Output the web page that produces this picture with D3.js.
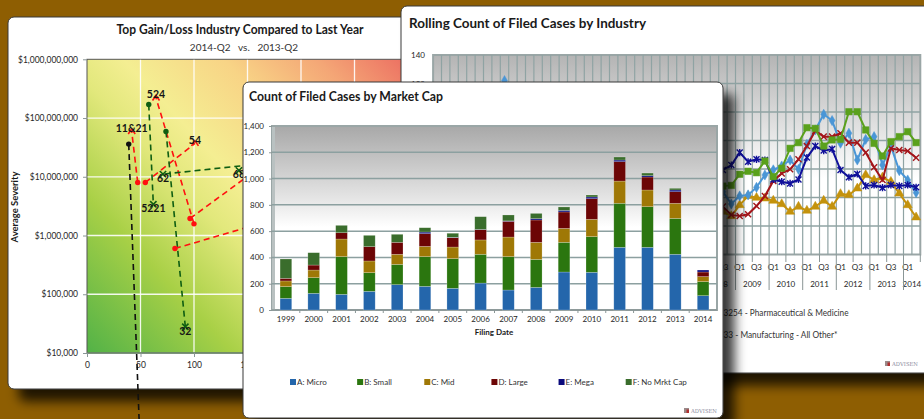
<!DOCTYPE html>
<html>
<head>
<meta charset="utf-8">
<script src="https://cdn.jsdelivr.net/npm/d3@7"></script>
<style>
body { margin: 0; background: #8e5e02; }
svg { display: block; font-family: Lato, "Open Sans", sans-serif; }
</style>
</head>
<body>
<svg id="chart" width="924" height="419"></svg>
<script>
/* ---------- data ---------- */

// Top Gain/Loss industries: each one moves from its 2013-Q2 point (dot) to its 2014-Q2 point (marker)
var industryLabels = ["11&21", "", "54", "524", "", "", "5221", "32", "62", "68"];
var industryTrend  = ["loss", "other", "loss", "loss", "loss", "loss", "gain", "gain", "gain", "gain"];
var count2013    = [47.4, 39.0, 54.5, 100.0, 96.3, 82.2, 57.7, 73.8, 199, 227];
var severity2013 = [8.0e6, 3.6e7, 8.0e6, 1.58e6, 1.95e6, 6.0e5, 1.7e8, 5.9e7, 1.96e7, 2.2e6];
var count2014    = [41.8, 49.5, 100.9, 64.5, 199, 217.8, 62.0, 91.9, 71, 142];
var severity2014 = [5.9e7, 300, 3.7e7, 2.2e8, 4.6e7, 3.2e6, 3.4e6, 2.8e4, 1.11e7, 1.28e7];
var severityTicks = [1e4, 1e5, 1e6, 1e7, 1e8, 1e9];
var countTicks = [0, 50, 100, 150, 200, 250, 300];

// Count of filed cases by market cap
var filingYears = ["1999","2000","2001","2002","2003","2004","2005","2006","2007","2008","2009","2010","2011","2012","2013","2014"];
var capMicro = [89, 127, 119, 142, 193, 180, 165, 205, 152, 172, 289, 287, 477, 477, 424, 109];
var capSmall = [89, 119, 287, 142, 154, 226, 226, 219, 254, 213, 226, 271, 335, 309, 273, 107];
var capMid   = [43, 58, 134, 89, 77, 78, 88, 109, 149, 130, 106, 132, 169, 127, 115, 38];
var capLarge = [20, 38, 48, 109, 91, 97, 71, 78, 120, 170, 125, 157, 148, 99, 88, 35];
var capMega  = [0, 0, 0, 0, 0, 12, 3, 2, 3, 10, 12, 13, 12, 10, 13, 15];
var capNone  = [147, 94, 56, 86, 61, 33, 31, 97, 45, 40, 26, 15, 23, 20, 13, 0];
var capNames  = ["A: Micro", "B: Small", "C: Mid", "D: Large", "E: Mega", "F: No Mrkt Cap"];
var capColors = ["#2466ab", "#2b760f", "#9f7806", "#6c0505", "#0a0a7c", "#3a6d2c"];
var countAxisTicks = [0, 200, 400, 600, 800, 1000, 1200, 1400];

// Rolling count by industry, 2000-Q1 .. 2014-Q2 (null = covered by the front chart)
var rollYears = ["2000","2001","2002","2003","2004","2005","2006","2007","2008","2009","2010","2011","2012","2013","2014"];
var quarterNames = ["Q1", "Q2", "Q3", "Q4"];
var rollBlue = [null,null,null,null,null,null,null,98,122,104,null,null,null,null,null,null,null,null,null,null,
  null,null,null,null,null,null,null,null,null,null,null,null,null,null,
  44.1,35.4,41.1,41.8,47.1,55.8,59.4,62.1,66.3,59.8,77.3,87.4,98.4,94.0,78.1,85.1,66.3,80.8,82.7,62.8,76.1,58.8,52.3,43.4];
var rollGreenLate = [48.0,48.5,56.3,58.4,57.4,65.6,54.6,60.5,74.5,78.5,89.0,88.5,76.1,80.4,80.8,100.2,100.2,87.4,78.0,69.1,79.2,82.7,86.2,78.5];
var rollRedLate   = [33.6,27.8,27.0,28.2,34.0,41.0,51.6,56.9,59.8,66.8,76.1,86.9,82.7,82.7,85.1,78.5,78.5,71.5,61.2,52.3,74.5,73.3,72.6,67.9];
var rollNavyLate  = [59.3,62.8,71.5,65.1,66.8,66.3,52.7,51.1,49.9,52.7,68.0,76.1,72.9,74.0,59.3,54.2,56.5,48.1,48.8,46.9,48.8,48.1,48.8,47.2];
var rollGoldLate  = [30.1,27.0,34.7,41.1,39.9,39.4,37.8,35.4,30.1,33.6,30.8,33.6,37.8,33.6,42.5,41.8,46.4,55.8,52.3,54.2,51.1,42.9,34.7,26.1];
var rollLegend = ["3254 - Pharmaceutical & Medicine", "33 - Manufacturing - All Other*"];

/* ---------- helpers ---------- */
var svg = d3.select("#chart");
var defs = svg.append("defs");

var nQuarters = rollYears.length * 4 - 2;
function padHidden(vals) {
  var out = [];
  for (var i = 0; i < nQuarters - vals.length; i++) out.push(null);
  return out.concat(vals);
}

var shadow = defs.append("filter").attr("id", "shadow")
  .attr("x", "-10%").attr("y", "-10%").attr("width", "130%").attr("height", "130%");
shadow.append("feGaussianBlur").attr("in", "SourceAlpha").attr("stdDeviation", 6);
shadow.append("feOffset").attr("dx", 11).attr("dy", 12).attr("result", "blur");
shadow.append("feFlood").attr("flood-color", "#000").attr("flood-opacity", 0.78);
shadow.append("feComposite").attr("in2", "blur").attr("operator", "in");
var merge = shadow.append("feMerge");
merge.append("feMergeNode");
merge.append("feMergeNode").attr("in", "SourceGraphic");

function gradient(id, x1, y1, x2, y2, stops) {
  var g = defs.append("linearGradient").attr("id", id)
    .attr("gradientUnits", "userSpaceOnUse")
    .attr("x1", x1).attr("y1", y1).attr("x2", x2).attr("y2", y2);
  stops.forEach(function (s) {
    g.append("stop").attr("offset", s[0]).attr("stop-color", s[1]);
  });
}

function styleAxis(g, size) {
  g.select(".domain").remove();
  g.selectAll("line").attr("stroke", "#8a9696");
  g.selectAll("text").attr("font-size", size).attr("fill", "#262626")
    .attr("font-family", "Lato, sans-serif");
}

function logo(x, y) {
  svg.append("rect").attr("x", x).attr("y", y - 5).attr("width", 5).attr("height", 5).attr("fill", "#9a8a8a");
  svg.append("rect").attr("x", x + 2.5).attr("y", y - 3.5).attr("width", 2.5).attr("height", 3.5).attr("fill", "#b03030");
  svg.append("text").attr("x", x + 7).attr("y", y).attr("font-size", 5.5)
    .attr("font-family", "DejaVu Serif, serif").attr("fill", "#8c8ca0")
    .attr("textLength", 26).attr("lengthAdjust", "spacingAndGlyphs").text("ADVISEN");
}

svg.append("rect").attr("width", 924).attr("height", 419).attr("fill", "#8e5e02");

/* ---------- panel 1: scatter ---------- */
svg.append("rect").attr("x", 8).attr("y", 17).attr("width", 430).attr("height", 372)
  .attr("rx", 6).attr("fill", "#fff").attr("stroke", "#3a3a3a").attr("filter", "url(#shadow)");

svg.append("text").attr("x", 240).attr("y", 33.5).attr("text-anchor", "middle")
  .attr("font-size", 12.5).attr("font-weight", "bold").attr("fill", "#1a1a1a")
  .attr("textLength", 247).attr("lengthAdjust", "spacingAndGlyphs")
  .text("Top Gain/Loss Industry Compared to Last Year");
svg.append("text").attr("x", 244).attr("y", 50.5).attr("text-anchor", "middle")
  .attr("font-size", 10).attr("fill", "#333").style("white-space", "pre")
  .text("2014-Q2   vs.   2013-Q2");

var xCount = d3.scaleLinear().domain([0, 300]).range([87, 408]);
var ySev = d3.scaleLog().domain([1e4, 1e9]).range([353, 59.3]);

gradient("heat", 87, 353, 400, 59, [
  [0, "#52b247"], [0.25, "#a8d046"], [0.43, "#e2e87c"], [0.53, "#f4ee92"],
  [0.7, "#f8d486"], [0.86, "#f4a676"], [1, "#ed7363"]]);
svg.append("rect").attr("x", 87).attr("y", 59.3).attr("width", 321).attr("height", 293.7)
  .attr("fill", "url(#heat)").attr("stroke", "#555").attr("stroke-width", 1);

svg.append("g").selectAll("line").data(countTicks.slice(1)).join("line")
  .attr("x1", xCount).attr("x2", xCount).attr("y1", 59.8).attr("y2", 352.5)
  .attr("stroke", "#fff").attr("stroke-width", 1.3).attr("opacity", 0.9);
svg.append("g").selectAll("line").data(severityTicks.slice(1, -1)).join("line")
  .attr("x1", 87.5).attr("x2", 408).attr("y1", ySev).attr("y2", ySev)
  .attr("stroke", "#fff").attr("stroke-width", 1.3).attr("opacity", 0.9);
svg.append("line").attr("x1", 87).attr("x2", 408).attr("y1", 353).attr("y2", 353)
  .attr("stroke", "#6f8a6f").attr("stroke-width", 1.5);

var ay1 = svg.append("g").attr("transform", "translate(87,0)")
  .call(d3.axisLeft(ySev).tickValues(severityTicks).tickSize(4).tickPadding(5)
    .tickFormat(function (d) { return "$" + d3.format(",")(d); }));
styleAxis(ay1, 8.5);
var ax1 = svg.append("g").attr("transform", "translate(0,353)")
  .call(d3.axisBottom(xCount).tickValues(countTicks).tickSize(4).tickPadding(5));
styleAxis(ax1, 8.5);

svg.append("text").attr("transform", "translate(18,207) rotate(-90)").attr("text-anchor", "middle")
  .attr("font-size", 9.5).attr("font-weight", "bold").attr("fill", "#1a1a1a")
  .attr("textLength", 71).attr("lengthAdjust", "spacingAndGlyphs").text("Average Severity");

var trendColor = { loss: "#ff1010", gain: "#0f5e12", other: "#111" };
var moves = industryLabels.map(function (lab, i) {
  return { label: lab, color: trendColor[industryTrend[i]], trend: industryTrend[i],
    x0: xCount(count2013[i]), y0: ySev(severity2013[i]),
    x1: xCount(count2014[i]), y1: ySev(severity2014[i]) };
});
var sc = svg.append("g");
sc.selectAll("line").data(moves).join("line")
  .attr("x1", function (d) { return d.x0; }).attr("y1", function (d) { return d.y0; })
  .attr("x2", function (d) { return d.x1; }).attr("y2", function (d) { return d.y1; })
  .attr("stroke", function (d) { return d.color; }).attr("stroke-width", 1.6)
  .attr("stroke-dasharray", "6,4");
sc.selectAll("circle").data(moves).join("circle")
  .attr("cx", function (d) { return d.x0; }).attr("cy", function (d) { return d.y0; })
  .attr("r", 2.7).attr("fill", function (d) { return d.color; });
sc.selectAll("path.end").data(moves.filter(function (d) { return d.trend !== "other"; })).join("path")
  .attr("class", "end")
  .attr("transform", function (d) { return "translate(" + d.x1 + "," + d.y1 + ")"; })
  .attr("d", function (d) {
    return d.trend === "gain" ? d3.symbol(d3.symbolTimes, 28)() : "M-3.5,2.5L0,-2.5L3.5,2.5";
  })
  .attr("fill", "none").attr("stroke", function (d) { return d.color; }).attr("stroke-width", 1.6);
// losses are labelled above their marker, gains below
sc.selectAll("text").data(moves).join("text")
  .attr("x", function (d) { return d.x1; })
  .attr("y", function (d) { return d.trend === "gain" ? d.y1 + 8 : d.y1 + 0.5; })
  .attr("text-anchor", "middle").attr("font-size", 10.5).attr("font-weight", "bold")
  .attr("fill", "#151515").text(function (d) { return d.label; });

/* ---------- panel 3: rolling count lines ---------- */
svg.append("rect").attr("x", 401).attr("y", 6).attr("width", 560).attr("height", 367)
  .attr("rx", 6).attr("fill", "#fff").attr("stroke", "#3a3a3a").attr("filter", "url(#shadow)");
svg.append("text").attr("x", 409).attr("y", 27.5)
  .attr("font-size", 14).attr("font-weight", "bold").attr("fill", "#1a1a1a")
  .attr("textLength", 237).attr("lengthAdjust", "spacingAndGlyphs")
  .text("Rolling Count of Filed Cases by Industry");

var quarters = [];
rollYears.forEach(function (y) {
  quarterNames.forEach(function (q) { if (quarters.length < nQuarters) quarters.push({ year: y, q: q }); });
});
var x3 = d3.scaleBand().domain(d3.range(nQuarters)).range([433.1, 920.3]);
var y3 = d3.scaleLinear().domain([0, 140]).range([254.5, 55]);
var bw3 = x3.bandwidth();

gradient("wall3", 0, 55, 0, 254.5, [[0, "#b4b4b4"], [0.45, "#ececec"], [0.62, "#fff"], [1, "#fff"]]);
svg.append("rect").attr("x", 433.1).attr("y", 55).attr("width", 487.2).attr("height", 199.5)
  .attr("fill", "url(#wall3)").attr("stroke", "#9aa6a6").attr("stroke-width", 2);
svg.append("g").selectAll("line").data(d3.range(1, nQuarters)).join("line")
  .attr("x1", function (i) { return x3(i); }).attr("x2", function (i) { return x3(i); })
  .attr("y1", 55).attr("y2", 254.5).attr("stroke", "#8fa3a3").attr("stroke-width", 1.2);
svg.append("g").selectAll("line").data(d3.range(20, 140, 20)).join("line")
  .attr("x1", 433.1).attr("x2", 920.3).attr("y1", y3).attr("y2", y3)
  .attr("stroke", "#8fa3a3").attr("stroke-width", 1.4);

var ay3 = svg.append("g").attr("transform", "translate(433,0)")
  .call(d3.axisLeft(y3).tickValues(d3.range(0, 141, 20)).tickSize(0).tickPadding(8));
styleAxis(ay3, 8);

var qAxis = svg.append("g");
qAxis.selectAll("text.q").data(quarters.filter(function (d, i) { return i % 2 === 0; })).join("text")
  .attr("class", "q")
  .attr("x", function (d) { return x3(quarters.indexOf(d)) + bw3 / 2; }).attr("y", 270)
  .attr("text-anchor", "middle").attr("font-size", 8).attr("fill", "#262626")
  .text(function (d) { return d.q; });
qAxis.selectAll("text.y").data(rollYears).join("text")
  .attr("class", "y")
  .attr("x", function (y, k) {
    var first = k * 4, last = Math.min(first + 3, nQuarters - 1);
    return (x3(first) + x3(last) + bw3) / 2;
  })
  .attr("y", 286.5).attr("text-anchor", "middle").attr("font-size", 8).attr("fill", "#262626")
  .text(function (y) { return y; });
qAxis.selectAll("line").data(d3.range(0, nQuarters + 1, 2)).join("line")
  .attr("x1", function (i) { return i < nQuarters ? x3(i) : 920.3; })
  .attr("x2", function (i) { return i < nQuarters ? x3(i) : 920.3; })
  .attr("y1", 254.5).attr("y2", function (i) { return i % 4 === 0 ? 290 : 262; })
  .attr("stroke", "#8a9696").attr("stroke-width", 1);

var asterisk = "M-3,-3L3,3M-3,3L3,-3M0,-3.6L0,3.6";
var rollSeries = [
  { vals: padHidden(rollGoldLate), color: "#c4920c", mark: d3.symbol(d3.symbolTriangle, 36)(), fill: true },
  { vals: rollBlue, color: "#4a96d6", mark: d3.symbol(d3.symbolDiamond, 30)(), fill: true },
  { vals: padHidden(rollRedLate), color: "#a3151a", mark: d3.symbol(d3.symbolTimes, 26)(), fill: false },
  { vals: padHidden(rollNavyLate), color: "#10109a", mark: asterisk, fill: false },
  { vals: padHidden(rollGreenLate), color: "#5aa11c", mark: d3.symbol(d3.symbolSquare, 42)(), fill: true }
];
var line3 = d3.line()
  .defined(function (d) { return d !== null; })
  .x(function (d, i) { return x3(i) + bw3 / 2; })
  .y(function (d) { return y3(d); });
rollSeries.forEach(function (s) {
  var g = svg.append("g");
  g.append("path").attr("d", line3(s.vals)).attr("fill", "none")
    .attr("stroke", s.color).attr("stroke-width", 2);
  g.selectAll("path.m").data(s.vals.map(function (v, i) { return { v: v, i: i }; })
      .filter(function (d) { return d.v !== null; })).join("path")
    .attr("class", "m")
    .attr("transform", function (d) { return "translate(" + (x3(d.i) + bw3 / 2) + "," + y3(d.v) + ")"; })
    .attr("d", s.mark)
    .attr("fill", s.fill ? s.color : "none").attr("stroke", s.color).attr("stroke-width", s.fill ? 0.5 : 1.4);
});

svg.append("g").selectAll("text").data(rollLegend).join("text")
  .attr("x", 723.5)
  .attr("y", function (d, i) { return 315.5 + i * 22; })
  .attr("font-size", 9).attr("fill", "#333")
  .attr("textLength", function (d, i) { return i === 0 ? 125 : 114; })
  .attr("lengthAdjust", "spacingAndGlyphs").text(function (d) { return d; });
logo(885, 366);

/* ---------- panel 2: stacked bars ---------- */
svg.append("rect").attr("x", 243).attr("y", 82).attr("width", 480).attr("height", 336)
  .attr("rx", 6).attr("fill", "#fff").attr("stroke", "#3a3a3a").attr("filter", "url(#shadow)");
svg.append("text").attr("x", 249).attr("y", 100.5)
  .attr("font-size", 14).attr("font-weight", "bold").attr("fill", "#1a1a1a")
  .attr("textLength", 194).attr("lengthAdjust", "spacingAndGlyphs")
  .text("Count of Filed Cases by Market Cap");

var x2 = d3.scaleBand().domain(filingYears).range([272, 717]).paddingInner(0.58).paddingOuter(0.29);
var y2 = d3.scaleLinear().domain([0, 1400]).range([310, 126]);

gradient("wall2", 0, 126, 0, 310, [[0, "#a8a8a8"], [0.42, "#e9e9e9"], [0.55, "#fff"], [1, "#fff"]]);
svg.append("rect").attr("x", 272).attr("y", 126).attr("width", 445).attr("height", 184)
  .attr("fill", "url(#wall2)").attr("stroke", "#9aa6a6").attr("stroke-width", 2);
svg.append("rect").attr("x", 272).attr("y", 127).attr("width", 3).attr("height", 183).attr("fill", "#b9c1c1");
svg.append("g").selectAll("line").data(countAxisTicks.slice(1, -1)).join("line")
  .attr("x1", 272).attr("x2", 717).attr("y1", y2).attr("y2", y2)
  .attr("stroke", "#8ca0a0").attr("stroke-width", 1.5);

var ay2 = svg.append("g").attr("transform", "translate(272,0)")
  .call(d3.axisLeft(y2).tickValues(countAxisTicks).tickSize(3).tickPadding(5).tickFormat(d3.format(",")));
styleAxis(ay2, 8);
var ax2 = svg.append("g").attr("transform", "translate(0,310)")
  .call(d3.axisBottom(x2).tickSize(0).tickPadding(6));
styleAxis(ax2, 8);
svg.append("line").attr("x1", 272).attr("x2", 717).attr("y1", 310).attr("y2", 310)
  .attr("stroke", "#8a9696").attr("stroke-width", 1.5);
// small ticks between the year categories
svg.append("g").selectAll("line").data(filingYears.slice(1)).join("line")
  .attr("x1", function (y) { return x2(y) - (x2.step() - x2.bandwidth()) / 2; })
  .attr("x2", function (y) { return x2(y) - (x2.step() - x2.bandwidth()) / 2; })
  .attr("y1", 310).attr("y2", 313).attr("stroke", "#8a9696");

svg.append("text").attr("x", 494).attr("y", 334.5).attr("text-anchor", "middle")
  .attr("font-size", 8).attr("font-weight", "bold").attr("fill", "#1a1a1a").text("Filing Date");

var capRows = filingYears.map(function (y, i) {
  return { year: y, 0: capMicro[i], 1: capSmall[i], 2: capMid[i], 3: capLarge[i], 4: capMega[i], 5: capNone[i] };
});
var stacked = d3.stack().keys([0, 1, 2, 3, 4, 5])(capRows);
svg.append("g").selectAll("g").data(stacked).join("g")
  .attr("fill", function (d, k) { return capColors[k]; })
  .selectAll("rect").data(function (d) { return d; }).join("rect")
  .attr("x", function (d) { return x2(d.data.year); })
  .attr("width", x2.bandwidth())
  .attr("y", function (d) { return y2(d[1]); })
  .attr("height", function (d) { return Math.max(0, y2(d[0]) - y2(d[1])); })
  .attr("stroke", "rgba(255,255,255,0.35)").attr("stroke-width", 0.6);

var legendX = d3.scalePoint().domain(capNames).range([290, 625.7]);
var lg = svg.append("g").selectAll("g").data(capNames).join("g")
  .attr("transform", function (d) { return "translate(" + legendX(d) + ",382)"; });
lg.append("rect").attr("x", 0).attr("y", -3).attr("width", 6).attr("height", 6)
  .attr("fill", function (d, k) { return capColors[k]; });
lg.append("text").attr("x", 7).attr("y", 3).attr("font-size", 8).attr("fill", "#333")
  .text(function (d) { return d; });
logo(684, 413);
</script>
</body>
</html>
